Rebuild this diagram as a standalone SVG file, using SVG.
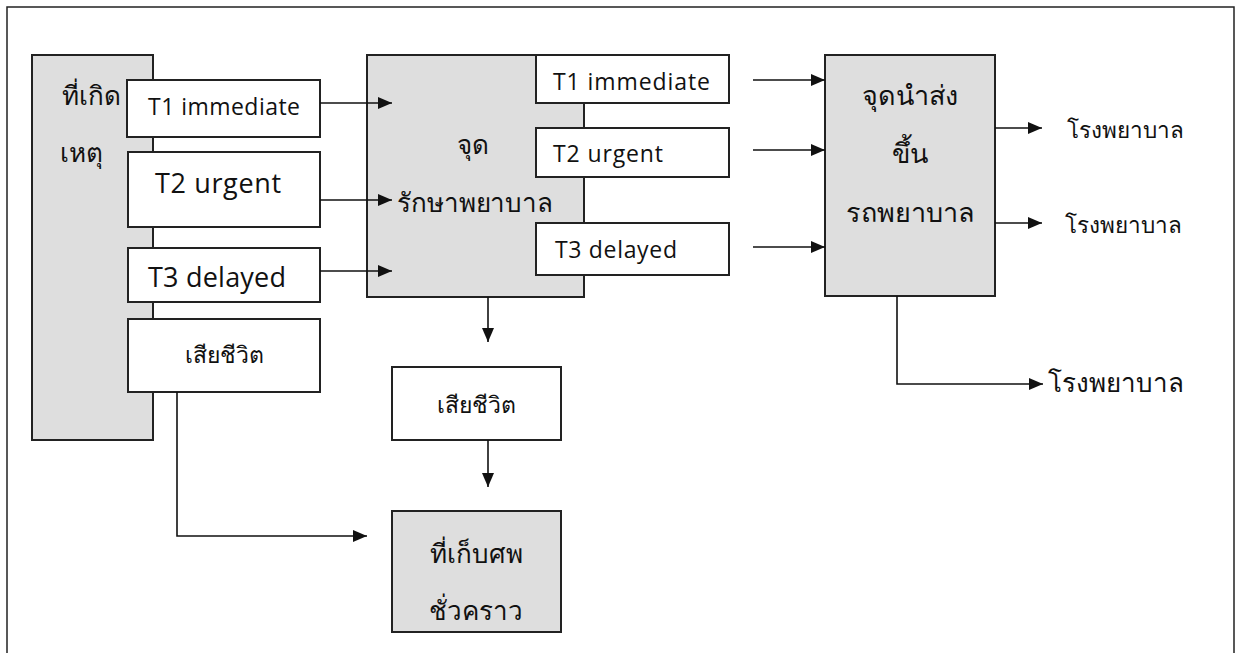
<svg xmlns="http://www.w3.org/2000/svg" width="1237" height="653" viewBox="0 0 1237 653">
  <defs>
    <marker id="arrow" viewBox="0 0 14 12" refX="14" refY="6" markerWidth="14" markerHeight="12" markerUnits="userSpaceOnUse" orient="auto">
      <path d="M0,0 L14,6 L0,12 Z" fill="#111"/>
    </marker>
    <style>
      .frame { fill: none; stroke: #222; stroke-width: 1.5; }
      .grey { fill: #dedede; stroke: #222; stroke-width: 2; }
      .box { fill: #fff; stroke: #222; stroke-width: 2; }
      .link { fill: none; stroke: #111; stroke-width: 1.6; marker-end: url(#arrow); }
      .en { font-family: "Open Sans", "Noto Sans", sans-serif; fill: #111; }
      .th { font-family: "Noto Sans", "DejaVu Sans", sans-serif; fill: #111; }
      .ths { font-family: "Liberation Serif", "DejaVu Serif", serif; fill: #111; }
      .mid { text-anchor: middle; }
    </style>
  </defs>

  <!-- page frame -->
  <path class="frame" d="M7,653 V7 H1234 V653"/>

  <!-- scene of the incident -->
  <g id="scene">
    <rect class="grey" x="32" y="55" width="121" height="385"/>
    <text class="th" x="62" y="105" font-size="26">ที่เกิด</text>
    <text class="th" x="60" y="162" font-size="26">เหตุ</text>
  </g>

  <g id="scene-t1">
    <rect class="box" x="127" y="80" width="193" height="57"/>
    <text class="en" x="148" y="115" font-size="23" textLength="152">T1 immediate</text>
  </g>
  <g id="scene-t2">
    <rect class="box" x="128" y="152" width="192" height="75"/>
    <text class="en" x="155" y="193" font-size="27" textLength="126">T2 urgent</text>
  </g>
  <g id="scene-t3">
    <rect class="box" x="128" y="248" width="192" height="54"/>
    <text class="en" x="148" y="287" font-size="27" textLength="138">T3 delayed</text>
  </g>
  <g id="scene-dead">
    <rect class="box" x="128" y="319" width="192" height="73"/>
    <text class="th mid" x="224" y="363" font-size="23">เสียชีวิต</text>
  </g>

  <!-- treatment point -->
  <g id="treatment">
    <rect class="grey" x="367" y="55" width="217" height="242"/>
    <text class="th mid" x="473" y="154" font-size="26">จุด</text>
    <text class="th" x="397" y="212" font-size="26" textLength="156">รักษาพยาบาล</text>
  </g>
  <g id="treat-t1">
    <rect class="box" x="536" y="55" width="193" height="48"/>
    <text class="en" x="553" y="90" font-size="23" textLength="157">T1 immediate</text>
  </g>
  <g id="treat-t2">
    <rect class="box" x="536" y="128" width="193" height="49"/>
    <text class="en" x="553" y="162" font-size="23" textLength="110">T2  urgent</text>
  </g>
  <g id="treat-t3">
    <rect class="box" x="536" y="223" width="193" height="52"/>
    <text class="en" x="555" y="258" font-size="23" textLength="122">T3 delayed</text>
  </g>

  <g id="treat-dead">
    <rect class="box" x="392" y="367" width="169" height="73"/>
    <text class="th mid" x="476" y="413" font-size="23">เสียชีวิต</text>
  </g>
  <g id="morgue">
    <rect class="grey" x="392" y="511" width="169" height="121"/>
    <text class="th mid" x="476" y="563" font-size="26">ที่เก็บศพ</text>
    <text class="th mid" x="476" y="620" font-size="26">ชั่วคราว</text>
  </g>

  <!-- ambulance loading point -->
  <g id="loading">
    <rect class="grey" x="825" y="55" width="170" height="241"/>
    <text class="ths mid" x="910" y="105" font-size="27">จุดนำส่ง</text>
    <text class="ths mid" x="910" y="163" font-size="27">ขึ้น</text>
    <text class="ths mid" x="910" y="222" font-size="27">รถพยาบาล</text>
  </g>

  <g id="hospital-1">
    <text class="ths" x="1067" y="138" font-size="22.5">โรงพยาบาล</text>
  </g>
  <g id="hospital-2">
    <text class="ths" x="1065" y="233" font-size="22.5">โรงพยาบาล</text>
  </g>
  <g id="hospital-3">
    <text class="ths" x="1048" y="392" font-size="26">โรงพยาบาล</text>
  </g>

  <!-- connectors -->
  <g id="connectors">
    <path class="link" d="M320,103 H392"/>
    <path class="link" d="M320,200 H392"/>
    <path class="link" d="M320,271 H392"/>
    <path class="link" d="M177,392 V536 H367"/>
    <path class="link" d="M488,297 V342"/>
    <path class="link" d="M488,440 V487"/>
    <path class="link" d="M753,80 H825"/>
    <path class="link" d="M753,150 H825"/>
    <path class="link" d="M753,247 H825"/>
    <path class="link" d="M995,128 H1042"/>
    <path class="link" d="M995,223 H1042"/>
    <path class="link" d="M897,296 V384 H1043"/>
  </g>
</svg>
